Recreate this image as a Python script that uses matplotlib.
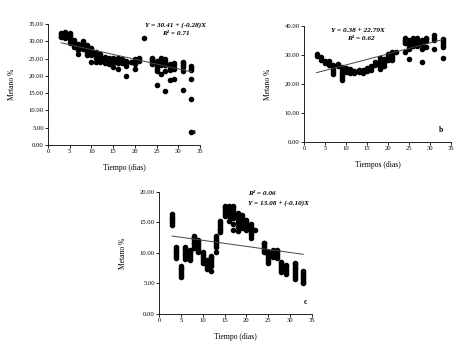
import matplotlib
matplotlib.use("Agg")
import matplotlib.pyplot as plt

plt.rcParams['font.family'] = ['Liberation Serif', 'DejaVu Serif']

# panel a: methane % per day (replicates)
days_a = [3, 4, 5, 6, 7, 8, 9, 10, 11, 12, 13, 14, 15, 16, 17, 18, 19, 20, 21, 22,
          24, 25, 26, 27, 28, 29, 31, 33]
vals_a = [
    [31.2, 31.6, 32.0, 32.4],
    [31.0, 31.5, 32.0, 32.6],
    [29.4, 30.5, 31.0, 31.5, 32.0, 32.3],
    [28.4, 28.9, 29.4, 29.9, 30.3],
    [26.2, 27.5, 28.0, 28.5, 29.0, 29.3],
    [27.7, 28.3, 28.8, 29.3, 29.8, 30.1],
    [26.1, 26.6, 27.2, 27.8, 28.4, 28.9],
    [23.9, 26.1, 26.6, 27.2, 27.8, 28.2],
    [24.0, 25.1, 25.6, 26.2, 26.9],
    [24.1, 24.6, 25.2, 25.8, 26.3],
    [23.8, 24.3, 24.9, 25.5],
    [23.3, 23.7, 24.3, 24.9, 25.3],
    [22.5, 23.8, 24.3, 24.8, 25.1],
    [21.9, 23.6, 24.1, 24.7, 25.2],
    [23.8, 24.3, 24.9],
    [20.0, 22.9, 23.4, 23.9, 24.4],
    [24.0],
    [22.0, 23.4, 23.9, 24.4, 24.8],
    [24.4, 24.9, 25.3],
    [31.0],
    [23.4, 23.9, 24.4, 24.9, 25.1],
    [17.5, 21.3, 22.1, 22.7, 23.3, 23.8, 24.2],
    [20.6, 23.1, 23.7, 24.3, 24.8, 25.1],
    [15.5, 21.3, 23.1, 23.7, 24.3, 24.9],
    [18.9, 21.7, 22.2, 22.8, 23.4],
    [19.1, 21.9, 22.4, 23.0, 23.6],
    [15.8, 21.4, 22.6, 23.1, 23.7, 24.1],
    [3.8, 13.2, 19.2, 21.6, 22.2, 22.8],
]
fit_a = (30.41, -0.28)

# panel b
days_b = [3, 4, 5, 6, 7, 8, 9, 10, 11, 12, 13, 14, 15, 16, 17, 18, 19, 20, 21, 22,
          24, 25, 26, 27, 28, 29, 31, 33]
vals_b = [
    [29.6, 30.4],
    [28.4, 29.3],
    [27.3, 28.0],
    [26.5, 27.2, 27.9],
    [23.6, 24.3, 25.0, 25.8, 26.5],
    [26.1, 27.0],
    [21.5, 22.2, 22.9, 23.6, 24.3, 25.0, 25.8],
    [24.1, 24.8, 25.4],
    [23.8, 24.5, 25.2],
    [23.8, 24.5],
    [24.1, 24.8],
    [23.8, 24.5, 24.9],
    [24.4, 25.0, 25.6],
    [25.0, 25.7, 26.3],
    [26.7, 27.7],
    [25.1, 26.1, 26.8, 27.5, 28.2, 28.9],
    [26.3, 27.3, 28.1, 28.8],
    [28.4, 29.1, 29.8, 30.5],
    [28.4, 29.1, 29.8, 30.5, 31.1],
    [31.2],
    [31.2, 34.1, 34.7, 35.3, 35.8],
    [28.7, 32.1, 32.8, 33.5, 34.2, 34.9, 35.2],
    [33.1, 33.8, 34.5, 35.2, 35.9],
    [33.1, 33.8, 34.5, 35.2, 35.8],
    [27.5, 32.0, 33.6, 34.3, 35.1],
    [32.7, 34.7, 35.4, 35.9],
    [32.0, 35.3, 36.0, 36.8],
    [28.9, 32.8, 33.5, 34.2, 34.9, 35.4],
]
fit_b = (22.79, 0.38)

# panel c
days_c = [3, 4, 5, 6, 7, 8, 9, 10, 11, 12, 13, 14, 15, 16, 17, 18, 19, 20, 21, 22,
          24, 25, 26, 27, 28, 29, 31, 33]
vals_c = [
    [14.6, 14.9, 15.2, 15.5, 15.8, 16.1, 16.4],
    [9.2, 9.5, 9.8, 10.1, 10.4, 10.7, 10.9],
    [6.1, 6.4, 6.7, 7.0, 7.3, 7.6, 7.8],
    [9.0, 9.3, 9.6, 9.9, 10.2, 10.5, 10.8, 11.0],
    [8.9, 9.2, 9.5, 9.8, 10.1, 10.4, 10.5],
    [10.8, 11.1, 11.4, 11.7, 12.0, 12.3, 12.6, 12.8],
    [10.1, 10.4, 10.7, 11.0, 11.3, 11.6, 11.9, 12.1],
    [8.4, 8.7, 9.0, 9.3, 9.6, 9.9, 10.2],
    [7.4, 7.7, 8.0, 8.3, 8.6, 8.8],
    [7.1, 7.8, 8.1, 8.4, 8.7, 9.0, 9.3, 9.5],
    [10.2, 11.0, 11.3, 11.6, 11.9, 12.2, 12.5, 12.8],
    [13.4, 13.7, 14.0, 14.3, 14.6, 14.9, 15.2],
    [16.1, 16.4, 16.7, 17.0, 17.3, 17.6, 17.7],
    [15.3, 16.1, 16.4, 16.7, 17.0, 17.3, 17.6, 17.7],
    [13.8, 14.7, 15.7, 16.0, 16.3, 16.6, 16.9, 17.2, 17.5, 17.7],
    [13.6, 14.3, 14.9, 15.2, 15.5, 15.8, 16.1, 16.4, 16.6],
    [14.1, 14.4, 14.7, 15.0, 15.3, 15.6, 15.9, 16.2],
    [13.7, 14.0, 14.3, 14.6, 14.9, 15.2, 15.4],
    [12.4, 12.9, 13.3, 13.6, 13.9, 14.2, 14.5, 14.8],
    [13.7],
    [10.1, 10.4, 10.7, 11.0, 11.3, 11.6, 11.7],
    [8.4, 8.7, 9.0, 9.3, 9.6, 9.9, 10.1],
    [9.4, 9.7, 10.0, 10.3, 10.5],
    [9.2, 9.5, 9.8, 10.1, 10.4, 10.5],
    [6.9, 7.2, 7.5, 7.8, 8.1, 8.4, 8.6],
    [6.6, 6.9, 7.2, 7.5, 7.8, 8.1],
    [5.8, 6.1, 6.4, 6.7, 7.0, 7.3, 7.6, 7.9, 8.2, 8.3],
    [5.0, 5.3, 5.6, 5.9, 6.2, 6.5, 6.8, 7.1],
]
fit_c = (13.08, -0.10)

fig = plt.figure(figsize=(4.68, 3.45), dpi=100)


def panel(rect, days, vals, fit, ymax, ystep, xlabel, eq_lines, letter):
    ax = fig.add_axes(rect)
    for d, v in zip(days, vals):
        ax.plot([d] * len(v), v, 'o', ms=3.0, color='black', mec='black')
    x0, x1 = 3, 33
    ax.plot([x0, x1], [fit[0] + fit[1] * x0, fit[0] + fit[1] * x1],
            color='#444444', lw=0.7)
    ax.set_xlim(0, 35)
    ax.set_ylim(0, ymax)
    ax.set_xticks(range(0, 36, 5))
    yt = [i * ystep for i in range(int(round(ymax / ystep)) + 1)]
    ax.set_yticks(yt)
    ax.set_yticklabels(['%.2f' % t for t in yt])
    for s in ['top', 'right']:
        ax.spines[s].set_visible(False)
    for s in ['left', 'bottom']:
        ax.spines[s].set_linewidth(0.6)
    ax.tick_params(labelsize=4.8, width=0.6, length=2, pad=1)
    ax.set_xlabel(xlabel, fontsize=5.5, labelpad=7)
    ax.set_ylabel('Metano %', fontsize=5.5, labelpad=9)
    for (tx, ty, s, ha) in eq_lines:
        ax.text(tx, ty, s, transform=ax.transAxes, fontsize=5.2,
                fontweight='bold', style='italic', ha=ha, va='center')
    ax.text(letter[0], letter[1], letter[2], transform=ax.transAxes,
            fontsize=5.5, fontweight='bold', ha='center', va='center')
    return ax


panel([0.1026, 0.5797, 0.325, 0.3507], days_a, vals_a, fit_a, 35, 5,
      'Tiempo (dias)',
      [(0.84, 0.99, 'Y = 30.41 + (-0.28)X', 'center'),
       (0.84, 0.92, 'R² = 0.71', 'center')],
      (0.96, 0.11, 'a'))
panel([0.6496, 0.5884, 0.314, 0.336], days_b, vals_b, fit_b, 40, 10,
      'Tiempos (dias)',
      [(0.37, 0.96, 'Y = 0.38 + 22.79X', 'center'),
       (0.39, 0.89, 'R² = 0.62', 'center')],
      (0.93, 0.10, 'b'))
panel([0.3397, 0.0899, 0.327, 0.3536], days_c, vals_c, fit_c, 20, 5,
      'Tiempo (dias)',
      [(0.58, 0.99, 'R² = 0.06', 'left'),
       (0.58, 0.91, 'Y = 13.08 + (-0.10)X', 'left')],
      (0.96, 0.10, 'c'))

fig.savefig('out.png', dpi=100)
